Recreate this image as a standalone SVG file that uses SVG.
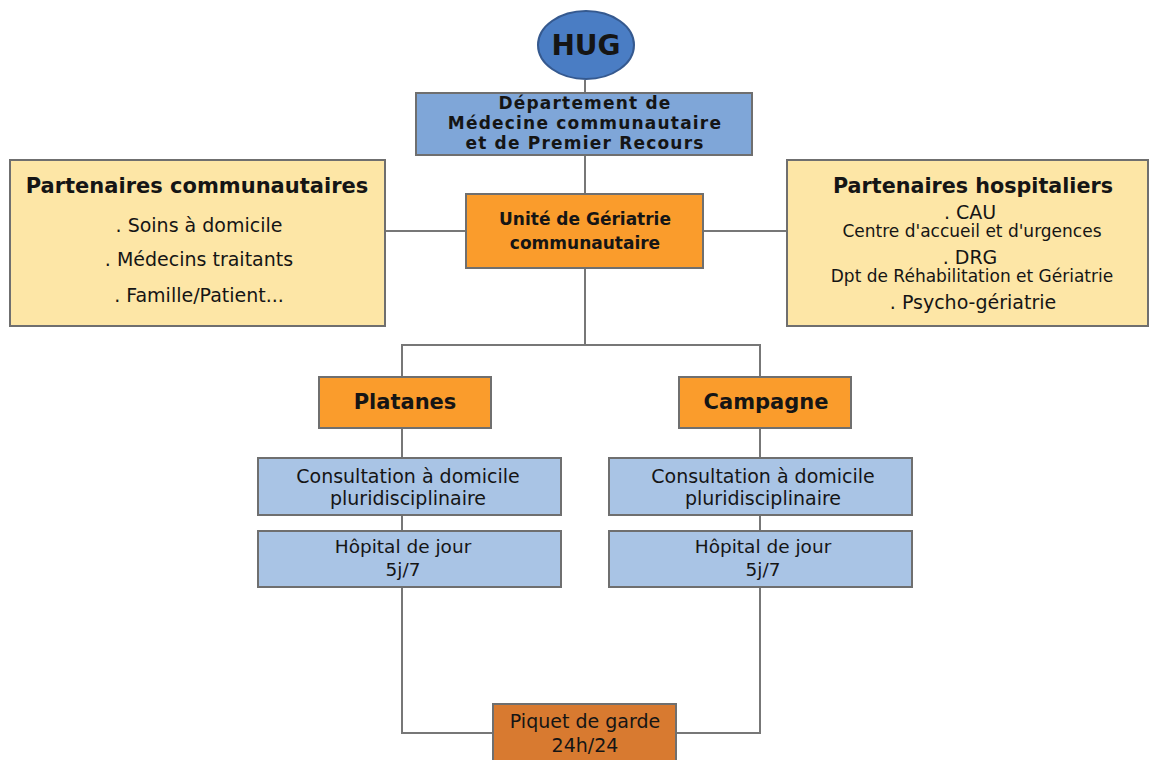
<svg xmlns="http://www.w3.org/2000/svg" width="1150" height="760" viewBox="0 0 1150 760">
<style>
.box{stroke:#6f6f6f;stroke-width:2}
.blue{fill:#a9c4e5}
.dblue{fill:#7fa6d8}
.yel{fill:#fde6a6}
.org{fill:#fa9c2c}
.brn{fill:#d87a30}
.con{fill:none;stroke:#777;stroke-width:2}
text{font-family:"DejaVu Sans","Liberation Sans",sans-serif;fill:#151515;text-anchor:middle}
.b{font-weight:bold}
.dep{font-weight:bold;font-size:17px;letter-spacing:1.2px}
</style>
<rect width="1150" height="760" fill="#fff"/>
<g id="connectors">
<line class="con" x1="585" y1="80" x2="585" y2="93"/>
<line class="con" x1="585" y1="155" x2="585" y2="194"/>
<line class="con" x1="385" y1="231" x2="466" y2="231"/>
<line class="con" x1="703" y1="231" x2="787" y2="231"/>
<line class="con" x1="585" y1="268" x2="585" y2="345"/>
<polyline class="con" points="402,377 402,345 760,345 760,377"/>
<line class="con" x1="402" y1="428" x2="402" y2="458"/>
<line class="con" x1="760" y1="428" x2="760" y2="458"/>
<line class="con" x1="402" y1="515" x2="402" y2="531"/>
<line class="con" x1="760" y1="515" x2="760" y2="531"/>
<polyline class="con" points="402,587 402,733 493,733"/>
<polyline class="con" points="760,587 760,733 676,733"/>
</g>
<g id="hug">
<ellipse cx="586" cy="45" rx="48" ry="34" fill="#4a7dc4" stroke="#35598f" stroke-width="2"/>
<text x="586" y="55" class="b" font-size="28">HUG</text>
</g>
<g id="departement">
<rect class="box dblue" x="416" y="93" width="336" height="62"/>
<text class="dep" x="585" y="109">Département de</text>
<text class="dep" x="585" y="129">Médecine communautaire</text>
<text class="dep" x="585" y="149">et de Premier Recours</text>
</g>
<g id="partenaires-communautaires">
<rect class="box yel" x="10" y="160" width="375" height="166"/>
<text class="b" font-size="21" x="197" y="193">Partenaires communautaires</text>
<text font-size="19" x="199" y="232">. Soins à domicile</text>
<text font-size="19" x="199" y="266">. Médecins traitants</text>
<text font-size="19" x="199" y="302">. Famille/Patient...</text>
</g>
<g id="partenaires-hospitaliers">
<rect class="box yel" x="787" y="160" width="361" height="166"/>
<text class="b" font-size="20.7" x="973" y="193">Partenaires hospitaliers</text>
<text font-size="19" x="970" y="219">. CAU</text>
<text font-size="17" x="972" y="237">Centre d'accueil et d'urgences</text>
<text font-size="19" x="970" y="264">. DRG</text>
<text font-size="17" x="972" y="282">Dpt de Réhabilitation et Gériatrie</text>
<text font-size="19" x="973" y="309">. Psycho-gériatrie</text>
</g>
<g id="unite">
<rect class="box org" x="466" y="194" width="237" height="74"/>
<text class="b" font-size="17" x="585" y="225">Unité de Gériatrie</text>
<text class="b" font-size="17" x="585" y="249">communautaire</text>
</g>
<g id="platanes">
<rect class="box org" x="319" y="377" width="172" height="51"/>
<text class="b" font-size="21" x="405" y="409">Platanes</text>
</g>
<g id="campagne">
<rect class="box org" x="679" y="377" width="172" height="51"/>
<text class="b" font-size="21" x="766" y="409">Campagne</text>
</g>
<g id="consultation-platanes">
<rect class="box blue" x="258" y="458" width="303" height="57"/>
<text font-size="19" x="408" y="483">Consultation à domicile</text>
<text font-size="19" x="408" y="505">pluridisciplinaire</text>
</g>
<g id="hopital-platanes">
<rect class="box blue" x="258" y="531" width="303" height="56"/>
<text font-size="18.5" x="403" y="553">Hôpital de jour</text>
<text font-size="18.5" x="403" y="576">5j/7</text>
</g>
<g id="consultation-campagne">
<rect class="box blue" x="609" y="458" width="303" height="57"/>
<text font-size="19" x="763" y="483">Consultation à domicile</text>
<text font-size="19" x="763" y="505">pluridisciplinaire</text>
</g>
<g id="hopital-campagne">
<rect class="box blue" x="609" y="531" width="303" height="56"/>
<text font-size="18.5" x="763" y="553">Hôpital de jour</text>
<text font-size="18.5" x="763" y="576">5j/7</text>
</g>
<g id="piquet">
<rect class="box brn" x="493" y="704" width="183" height="62"/>
<text font-size="19" x="585" y="728" fill="#2a1505">Piquet de garde</text>
<text font-size="19" x="585" y="752" fill="#2a1505">24h/24</text>
</g>
</svg>
